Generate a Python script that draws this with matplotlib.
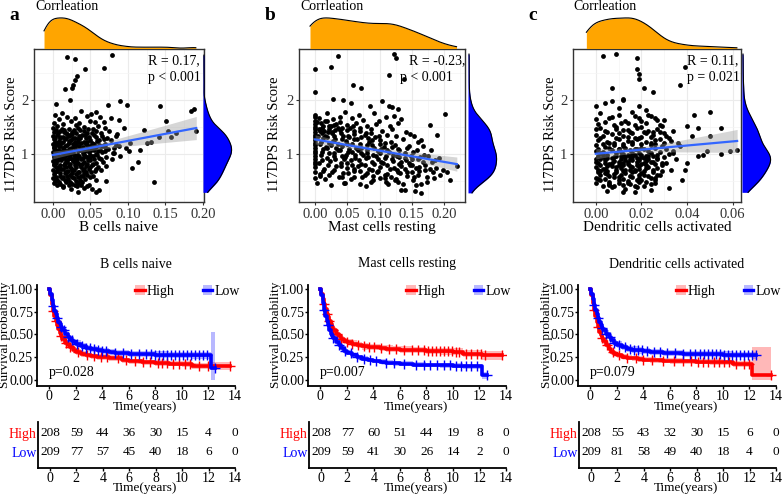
import numpy as np
import matplotlib
matplotlib.use('Agg')
import matplotlib.pyplot as plt
from matplotlib.patches import Patch
from matplotlib.lines import Line2D

plt.rcParams['font.family'] = ['Liberation Serif', 'DejaVu Serif']

# ---------------- data: scatter panels ----------------
a_pts = [
    (0.019, 2.80), (0.029, 2.75), (0.079, 2.83), (0.068, 2.60), (0.043, 2.57), (0.032, 2.44),
    (0.029, 2.37), (0.027, 2.28), (0.016, 2.21), (0.025, 2.23), (0.023, 2.00), (0.004, 1.92),
    (0.073, 1.91), (0.089, 1.99), (0.099, 1.91), (0.143, 1.88), (0.184, 1.80), (0.188, 1.83),
    (0.151, 1.61), (0.191, 1.43), (0.121, 1.45), (0.153, 1.42), (0.164, 1.39), (0.158, 1.31),
    (0.142, 1.31), (0.131, 1.23), (0.126, 1.20), (0.135, 0.48), (0.105, 0.74), (0.116, 1.08),
    (0.114, 0.85), (0.102, 1.05), (0.103, 1.20), (0.097, 1.11), (0.090, 0.96), (0.088, 1.14),
    (0.086, 1.37), (0.084, 1.33), (0.081, 1.11), (0.081, 1.01), (0.079, 0.91), (0.071, 0.77),
    (0.057, 0.29), (0.062, 0.34), (0.034, 0.29), (0.046, 0.40), (0.071, 0.50), (0.095, 1.48),
    (0.088, 1.63), (0.078, 1.66),
    (0.012, 1.76), (0.037, 1.79), (0.051, 1.74), (0.058, 1.77), (0.003, 1.72),
    (0.019, 1.69), (0.029, 1.66), (0.046, 1.70), (0.063, 1.68), (0.008, 1.64),
    (0.001, 1.58), (0.024, 1.61), (0.035, 1.57), (0.049, 1.62), (0.056, 1.59), (0.068, 1.60), (0.014, 1.55),
    (0.000, 1.49), (0.006, 1.52), (0.021, 1.47), (0.031, 1.53), (0.041, 1.50), (0.053, 1.46), (0.060, 1.51),
    (0.070, 1.48), (0.015, 1.45),
    (0.002, 1.41), (0.010, 1.43), (0.026, 1.40), (0.036, 1.44), (0.045, 1.39), (0.057, 1.42), (0.064, 1.38),
    (0.075, 1.43), (0.019, 1.37),
    (0.000, 1.33), (0.005, 1.36), (0.013, 1.31), (0.022, 1.34), (0.030, 1.30), (0.039, 1.35), (0.048, 1.32),
    (0.055, 1.36), (0.066, 1.33), (0.072, 1.29),
    (0.001, 1.27), (0.008, 1.24), (0.016, 1.28), (0.024, 1.25), (0.033, 1.27), (0.042, 1.23), (0.050, 1.26),
    (0.059, 1.24), (0.068, 1.27), (0.078, 1.25),
    (0.000, 1.19), (0.004, 1.16), (0.011, 1.20), (0.019, 1.17), (0.027, 1.19), (0.035, 1.15), (0.044, 1.18),
    (0.052, 1.21), (0.061, 1.17), (0.070, 1.19), (0.084, 1.16),
    (0.002, 1.11), (0.007, 1.08), (0.014, 1.12), (0.021, 1.09), (0.029, 1.11), (0.037, 1.07), (0.046, 1.10),
    (0.054, 1.12), (0.063, 1.08), (0.074, 1.10),
    (0.000, 1.03), (0.005, 1.00), (0.012, 1.04), (0.018, 1.01), (0.025, 1.03), (0.032, 0.99), (0.040, 1.02),
    (0.048, 1.04), (0.057, 1.00), (0.066, 1.03), (0.080, 1.01),
    (0.001, 0.95), (0.009, 0.92), (0.016, 0.96), (0.023, 0.93), (0.030, 0.95), (0.038, 0.91), (0.045, 0.94),
    (0.053, 0.96), (0.061, 0.92), (0.071, 0.95),
    (0.000, 0.87), (0.004, 0.84), (0.011, 0.88), (0.019, 0.85), (0.027, 0.87), (0.034, 0.83), (0.042, 0.86),
    (0.050, 0.88), (0.058, 0.84), (0.067, 0.86),
    (0.002, 0.79), (0.008, 0.76), (0.015, 0.80), (0.022, 0.77), (0.029, 0.79), (0.037, 0.75), (0.044, 0.78),
    (0.052, 0.80), (0.060, 0.76),
    (0.000, 0.71), (0.006, 0.68), (0.013, 0.72), (0.020, 0.69), (0.026, 0.71), (0.033, 0.67), (0.040, 0.70),
    (0.048, 0.72), (0.056, 0.68), (0.064, 0.71),
    (0.001, 0.63), (0.009, 0.60), (0.016, 0.64), (0.023, 0.61), (0.031, 0.63), (0.038, 0.59), (0.046, 0.62),
    (0.054, 0.60),
    (0.000, 0.55), (0.005, 0.52), (0.012, 0.56), (0.020, 0.53), (0.028, 0.55), (0.036, 0.51), (0.043, 0.54),
    (0.058, 0.52),
    (0.002, 0.47), (0.010, 0.44), (0.018, 0.48), (0.025, 0.45), (0.034, 0.47), (0.048, 0.43),
    (0.014, 0.39), (0.024, 0.36), (0.032, 0.40), (0.041, 0.37), (0.052, 0.35),
    (0.003, 1.22), (0.009, 1.14), (0.017, 1.06), (0.023, 0.98), (0.028, 1.15), (0.034, 1.22), (0.039, 1.09),
    (0.043, 0.97), (0.006, 0.90), (0.013, 0.97), (0.021, 1.21), (0.026, 1.37), (0.031, 0.88), (0.036, 1.30),
    (0.041, 1.43), (0.047, 1.15), (0.010, 1.30), (0.015, 1.40), (0.003, 1.05), (0.033, 1.05), (0.020, 0.90),
    (0.039, 0.82), (0.007, 0.73), (0.017, 0.66), (0.028, 0.70), (0.044, 0.66), (0.050, 0.98), (0.055, 1.08),
    (0.062, 1.25), (0.069, 1.13),
]
a_pts_core = [
    (0.004, 1.45), (0.012, 1.47), (0.028, 1.44), (0.033, 1.48), (0.047, 1.46),
    (0.007, 1.38), (0.017, 1.39), (0.023, 1.36), (0.031, 1.38), (0.043, 1.35), (0.052, 1.39),
    (0.003, 1.29), (0.009, 1.32), (0.018, 1.30), (0.027, 1.29), (0.035, 1.33), (0.044, 1.30), (0.058, 1.31),
    (0.006, 1.21), (0.013, 1.23), (0.021, 1.24), (0.029, 1.22), (0.038, 1.20), (0.046, 1.23), (0.055, 1.19),
    (0.002, 1.13), (0.008, 1.15), (0.016, 1.14), (0.024, 1.12), (0.031, 1.16), (0.040, 1.13), (0.049, 1.14),
    (0.058, 1.13), (0.066, 1.15),
    (0.003, 1.07), (0.010, 1.05), (0.015, 1.08), (0.022, 1.06), (0.027, 1.04), (0.035, 1.07), (0.043, 1.05),
    (0.051, 1.07), (0.060, 1.05), (0.069, 1.06),
    (0.002, 0.99), (0.008, 0.97), (0.014, 1.00), (0.020, 0.98), (0.028, 0.99), (0.035, 0.96), (0.042, 0.99),
    (0.050, 0.95), (0.059, 0.98),
    (0.003, 0.91), (0.007, 0.89), (0.013, 0.92), (0.018, 0.89), (0.025, 0.91), (0.032, 0.90), (0.040, 0.92),
    (0.047, 0.89), (0.055, 0.91), (0.064, 0.90),
    (0.002, 0.82), (0.009, 0.80), (0.016, 0.83), (0.023, 0.81), (0.030, 0.83), (0.036, 0.80), (0.046, 0.82),
    (0.054, 0.81),
    (0.004, 0.75), (0.011, 0.73), (0.017, 0.76), (0.024, 0.74), (0.031, 0.75), (0.041, 0.73), (0.049, 0.75),
    (0.057, 0.73),
    (0.003, 0.67), (0.010, 0.65), (0.018, 0.66), (0.026, 0.64), (0.035, 0.66), (0.042, 0.64), (0.051, 0.66),
    (0.004, 0.58), (0.013, 0.57), (0.019, 0.60), (0.026, 0.58), (0.034, 0.57), (0.040, 0.59), (0.050, 0.57),
    (0.003, 0.50), (0.008, 0.49), (0.016, 0.51), (0.023, 0.49), (0.031, 0.50), (0.039, 0.49),
    (0.006, 0.42), (0.014, 0.41), (0.021, 0.43), (0.029, 0.42), (0.037, 0.43),
]

b_pts = [
    (0.000, 2.58), (0.000, 2.15), (0.024, 2.61), (0.035, 2.81), (0.059, 2.28), (0.071, 2.23),
    (0.123, 2.85), (0.125, 2.77), (0.114, 2.46), (0.138, 2.39), (0.028, 2.01), (0.044, 2.00),
    (0.104, 1.99), (0.056, 1.94), (0.085, 1.88), (0.115, 1.89), (0.119, 1.87), (0.128, 1.83),
    (0.202, 1.74), (0.178, 1.53), (0.190, 1.36), (0.220, 0.77), (0.198, 0.70), (0.210, 0.51),
    (0.185, 0.56), (0.165, 0.44), (0.155, 0.31), (0.165, 0.28), (0.140, 0.33), (0.134, 0.34),
    (0.079, 0.40), (0.045, 0.47), (0.170, 0.80), (0.176, 0.96), (0.180, 1.08), (0.158, 1.08),
    (0.165, 1.26), (0.153, 1.33), (0.145, 1.14), (0.150, 0.90),
    (0.000, 1.73), (0.018, 1.76), (0.047, 1.78), (0.068, 1.72), (0.092, 1.75), (0.122, 1.71), (0.006, 1.66),
    (0.000, 1.62), (0.028, 1.65), (0.039, 1.60), (0.057, 1.67), (0.075, 1.63), (0.099, 1.61), (0.110, 1.68),
    (0.134, 1.64),
    (0.000, 1.55), (0.012, 1.52), (0.033, 1.56), (0.049, 1.53), (0.063, 1.57), (0.081, 1.51), (0.095, 1.55),
    (0.116, 1.52), (0.128, 1.57),
    (0.000, 1.46), (0.007, 1.43), (0.021, 1.47), (0.038, 1.44), (0.054, 1.48), (0.070, 1.42), (0.086, 1.46),
    (0.104, 1.43), (0.120, 1.47), (0.141, 1.41),
    (0.000, 1.36), (0.015, 1.34), (0.026, 1.38), (0.044, 1.33), (0.060, 1.37), (0.077, 1.35), (0.093, 1.32),
    (0.111, 1.36), (0.126, 1.33), (0.148, 1.37),
    (0.000, 1.26), (0.009, 1.23), (0.031, 1.27), (0.048, 1.24), (0.065, 1.28), (0.083, 1.22), (0.101, 1.26),
    (0.118, 1.23), (0.136, 1.27), (0.160, 1.22),
    (0.000, 1.16), (0.017, 1.13), (0.024, 1.17), (0.041, 1.14), (0.058, 1.18), (0.072, 1.12), (0.089, 1.16),
    (0.107, 1.13), (0.124, 1.17), (0.143, 1.12), (0.168, 1.15),
    (0.000, 1.06), (0.011, 1.03), (0.035, 1.07), (0.051, 1.04), (0.067, 1.08), (0.080, 1.02), (0.097, 1.06),
    (0.114, 1.03), (0.131, 1.07), (0.152, 1.04),
    (0.000, 0.96), (0.019, 0.93), (0.029, 0.97), (0.046, 0.94), (0.062, 0.98), (0.079, 0.92), (0.094, 0.96),
    (0.109, 0.93), (0.127, 0.97), (0.139, 0.92), (0.163, 0.95),
    (0.000, 0.86), (0.006, 0.83), (0.023, 0.87), (0.040, 0.84), (0.056, 0.88), (0.071, 0.82), (0.088, 0.86),
    (0.105, 0.83), (0.121, 0.87), (0.145, 0.84),
    (0.000, 0.76), (0.014, 0.73), (0.032, 0.77), (0.050, 0.74), (0.066, 0.78), (0.084, 0.72), (0.100, 0.76),
    (0.117, 0.73), (0.133, 0.77), (0.156, 0.74),
    (0.000, 0.66), (0.008, 0.63), (0.027, 0.67), (0.043, 0.64), (0.061, 0.68), (0.078, 0.62), (0.096, 0.66),
    (0.112, 0.63), (0.129, 0.67),
    (0.000, 0.56), (0.016, 0.53), (0.037, 0.57), (0.055, 0.54), (0.073, 0.58), (0.090, 0.52), (0.108, 0.56),
    (0.125, 0.53),
    (0.003, 0.46), (0.025, 0.43), (0.047, 0.47), (0.069, 0.44), (0.087, 0.48), (0.113, 0.45),
    (0.052, 1.31), (0.064, 1.12), (0.074, 0.99), (0.035, 1.19), (0.086, 1.39), (0.045, 0.90), (0.057, 0.79),
    (0.103, 1.10), (0.021, 1.02), (0.013, 1.29), (0.098, 0.90), (0.082, 1.29),
]
b_pts_core = [
    (0.000, 1.40), (0.000, 1.31), (0.000, 1.21), (0.000, 1.11), (0.000, 1.01), (0.000, 0.91), (0.000, 1.50),
    (0.000, 0.81), (0.000, 1.68),
    (0.009, 1.58), (0.010, 1.48), (0.011, 1.39), (0.008, 1.19), (0.012, 1.09), (0.009, 0.98), (0.010, 0.89),
    (0.012, 0.69), (0.008, 0.59),
    (0.019, 1.62), (0.021, 1.52), (0.020, 1.41), (0.018, 1.31), (0.022, 1.21), (0.019, 1.11), (0.020, 0.79),
    (0.021, 0.61),
    (0.029, 1.54), (0.031, 1.44), (0.030, 1.34), (0.028, 1.24), (0.032, 1.12), (0.029, 1.01), (0.031, 0.91),
    (0.030, 0.71),
    (0.039, 1.68), (0.041, 1.49), (0.040, 1.39), (0.042, 1.27), (0.038, 1.07), (0.041, 0.97), (0.040, 0.78),
    (0.042, 0.57),
    (0.049, 1.44), (0.051, 1.34), (0.050, 1.19), (0.052, 1.09), (0.048, 0.99), (0.050, 0.84), (0.051, 0.64),
    (0.059, 1.52), (0.061, 1.42), (0.060, 1.27), (0.058, 1.04), (0.062, 0.93), (0.060, 0.73), (0.061, 0.58),
    (0.069, 1.49), (0.071, 1.31), (0.070, 1.19), (0.072, 1.02), (0.068, 0.89), (0.070, 0.69),
    (0.079, 1.39), (0.081, 1.16), (0.080, 1.07), (0.082, 0.94), (0.078, 0.79), (0.080, 0.64),
    (0.089, 1.25), (0.091, 1.11), (0.090, 0.99), (0.092, 0.81), (0.088, 0.71), (0.090, 0.59),
    (0.099, 1.33), (0.101, 1.19), (0.100, 1.02), (0.102, 0.86), (0.098, 0.69), (0.100, 0.55),
    (0.109, 1.21), (0.111, 1.07), (0.110, 0.97), (0.112, 0.79), (0.108, 0.61), (0.110, 0.48),
    (0.119, 1.13), (0.121, 0.99), (0.120, 0.90), (0.122, 0.74), (0.118, 0.58),
    (0.129, 1.10), (0.131, 0.94), (0.130, 0.82), (0.132, 0.64), (0.128, 0.49),
    (0.139, 1.01), (0.141, 0.88), (0.140, 0.72), (0.142, 0.59),
    (0.149, 0.97), (0.151, 0.79), (0.150, 0.66), (0.152, 0.52),
    (0.159, 0.91), (0.161, 0.75), (0.160, 0.62),
    (0.169, 0.99), (0.171, 0.70), (0.173, 0.58),
    (0.181, 0.86), (0.183, 0.66), (0.192, 0.92), (0.188, 0.74),
    (0.124, 0.52), (0.127, 0.71), (0.133, 0.86), (0.137, 0.45), (0.143, 0.66), (0.147, 0.80), (0.154, 0.58),
    (0.157, 0.42), (0.162, 0.68), (0.167, 0.85), (0.174, 0.49), (0.178, 0.73), (0.186, 0.88), (0.194, 0.61),
    (0.205, 0.66),
    (0.003, 1.59), (0.006, 1.47), (0.014, 1.43), (0.016, 1.62), (0.024, 1.51), (0.027, 1.41), (0.035, 1.49),
    (0.004, 1.33),
]

c_pts = [
    (0.003, 2.81), (0.009, 2.85), (0.018, 2.77), (0.018, 2.58), (0.019, 2.48), (0.019, 2.39),
    (0.007, 2.23), (0.021, 2.23), (0.025, 2.14), (0.039, 2.61), (0.037, 2.28), (0.000, 1.89),
    (0.004, 1.94), (0.007, 1.99), (0.012, 2.02), (0.012, 2.00), (0.019, 1.88), (0.010, 1.85),
    (0.043, 1.72), (0.050, 1.77), (0.055, 1.48), (0.045, 1.48), (0.040, 1.51), (0.050, 1.33),
    (0.042, 1.33), (0.055, 1.00), (0.059, 1.05), (0.062, 1.07), (0.047, 0.99), (0.049, 1.05),
    (0.045, 0.96), (0.040, 0.83), (0.039, 0.71), (0.038, 0.51), (0.033, 0.71), (0.032, 0.37),
    (0.026, 0.47), (0.026, 0.56), (0.029, 0.83), (0.024, 0.34), (0.017, 0.29), (0.012, 0.29),
    (0.005, 0.31), (0.034, 1.05), (0.036, 1.20), (0.032, 1.29), (0.030, 1.39), (0.034, 1.42),
    (0.028, 1.54), (0.030, 1.63), (0.026, 1.66), (0.022, 1.82), (0.023, 1.72),
    (0.002, 1.76), (0.010, 1.73), (0.016, 1.78), (0.024, 1.71),
    (0.000, 1.64), (0.006, 1.67), (0.013, 1.62), (0.019, 1.66), (0.027, 1.63),
    (0.001, 1.56), (0.008, 1.53), (0.011, 1.58), (0.017, 1.54), (0.022, 1.57), (0.029, 1.52),
    (0.000, 1.46), (0.004, 1.43), (0.009, 1.47), (0.014, 1.44), (0.018, 1.48), (0.023, 1.42), (0.027, 1.46),
    (0.000, 1.36), (0.003, 1.33), (0.007, 1.37), (0.012, 1.34), (0.016, 1.38), (0.020, 1.32), (0.025, 1.36),
    (0.031, 1.34),
    (0.001, 1.26), (0.005, 1.23), (0.010, 1.27), (0.014, 1.24), (0.018, 1.28), (0.022, 1.22), (0.026, 1.26),
    (0.033, 1.24),
    (0.000, 1.16), (0.004, 1.13), (0.008, 1.17), (0.012, 1.14), (0.016, 1.18), (0.020, 1.12), (0.024, 1.16),
    (0.029, 1.14), (0.037, 1.15),
    (0.000, 1.06), (0.003, 1.03), (0.007, 1.07), (0.011, 1.04), (0.015, 1.08), (0.019, 1.02), (0.023, 1.06),
    (0.028, 1.04), (0.034, 1.02),
    (0.001, 0.96), (0.005, 0.93), (0.009, 0.97), (0.013, 0.94), (0.017, 0.98), (0.021, 0.92), (0.025, 0.96),
    (0.030, 0.94),
    (0.000, 0.86), (0.004, 0.83), (0.008, 0.87), (0.012, 0.84), (0.016, 0.88), (0.020, 0.82), (0.024, 0.86),
    (0.031, 0.84),
    (0.000, 0.76), (0.003, 0.73), (0.007, 0.77), (0.011, 0.74), (0.015, 0.78), (0.019, 0.72), (0.023, 0.76),
    (0.027, 0.74),
    (0.001, 0.66), (0.005, 0.63), (0.009, 0.67), (0.013, 0.64), (0.017, 0.68), (0.021, 0.62), (0.025, 0.66),
    (0.000, 0.56), (0.004, 0.53), (0.008, 0.57), (0.012, 0.54), (0.016, 0.58), (0.020, 0.52), (0.024, 0.56),
    (0.000, 0.46), (0.006, 0.43), (0.010, 0.47), (0.015, 0.44), (0.019, 0.48),
    (0.007, 0.38), (0.013, 0.36), (0.018, 0.39),
    (0.006, 1.21), (0.010, 1.10), (0.014, 0.99), (0.018, 1.09), (0.002, 0.91), (0.012, 0.80), (0.017, 1.30),
    (0.021, 1.40), (0.009, 1.50), (0.015, 0.70), (0.022, 0.97), (0.026, 1.18),
]
c_pts_core = [
    (0.002, 1.49), (0.012, 1.45), (0.020, 1.50), (0.025, 1.41),
    (0.005, 1.40), (0.010, 1.38), (0.015, 1.41), (0.022, 1.39), (0.028, 1.40),
    (0.002, 1.30), (0.009, 1.29), (0.014, 1.31), (0.019, 1.29), (0.024, 1.31), (0.028, 1.28),
    (0.003, 1.19), (0.008, 1.21), (0.012, 1.19), (0.016, 1.22), (0.020, 1.19), (0.024, 1.21), (0.030, 1.20),
    (0.001, 1.10), (0.006, 1.11), (0.010, 1.09), (0.013, 1.12), (0.017, 1.10), (0.021, 1.09), (0.026, 1.11),
    (0.031, 1.09),
    (0.002, 1.01), (0.005, 0.99), (0.009, 1.02), (0.012, 1.00), (0.016, 1.01), (0.020, 0.99), (0.024, 1.01),
    (0.027, 0.99), (0.032, 1.00),
    (0.000, 0.91), (0.004, 0.89), (0.007, 0.92), (0.011, 0.90), (0.015, 0.91), (0.019, 0.89), (0.023, 0.91),
    (0.027, 0.90), (0.035, 0.90),
    (0.002, 0.80), (0.006, 0.81), (0.010, 0.79), (0.014, 0.81), (0.018, 0.80), (0.022, 0.79), (0.026, 0.81),
    (0.029, 0.79),
    (0.001, 0.71), (0.005, 0.69), (0.009, 0.71), (0.013, 0.70), (0.017, 0.71), (0.021, 0.69), (0.025, 0.71),
    (0.029, 0.69),
    (0.002, 0.61), (0.006, 0.59), (0.011, 0.61), (0.015, 0.60), (0.019, 0.61), (0.023, 0.59), (0.027, 0.61),
    (0.002, 0.51), (0.006, 0.49), (0.010, 0.52), (0.014, 0.50), (0.018, 0.51), (0.022, 0.49), (0.026, 0.51),
    (0.003, 0.41), (0.008, 0.40), (0.012, 0.42), (0.017, 0.41), (0.021, 0.40),
    (0.004, 1.60), (0.014, 1.58), (0.020, 1.61), (0.007, 1.69), (0.017, 1.70),
    (0.001, 0.53), (0.004, 0.64), (0.007, 0.84), (0.010, 0.58), (0.013, 0.88), (0.016, 0.66), (0.019, 0.55),
    (0.022, 0.74), (0.025, 0.85), (0.028, 0.62), (0.003, 0.95), (0.009, 0.76), (0.014, 0.47), (0.018, 0.93),
    (0.021, 0.83), (0.024, 0.45), (0.027, 0.93), (0.006, 0.45), (0.011, 0.96), (0.016, 0.75), (0.002, 0.69),
    (0.008, 0.63), (0.020, 0.65), (0.023, 0.97), (0.012, 0.68),
    (0.001, 0.84), (0.003, 0.99), (0.005, 0.77), (0.008, 0.94), (0.010, 0.85), (0.012, 0.96), (0.014, 0.86),
    (0.016, 0.94), (0.018, 0.86), (0.020, 0.95), (0.022, 0.87), (0.004, 0.72), (0.011, 0.82), (0.015, 0.97),
    (0.019, 0.78),
]

scatter_xlabels = ['B cells naive', 'Mast cells resting', 'Dendritic cells activated']
scatter_R = ['R = 0.17,', 'R = -0.23,', 'R = 0.11,']
scatter_p = ['p < 0.001', 'p < 0.001', 'p = 0.021']
a_xticks = [0.00, 0.05, 0.10, 0.15, 0.20]
b_xticks = [0.00, 0.05, 0.10, 0.15, 0.20]
c_xticks = [0.00, 0.02, 0.04, 0.06]
scatter_yticks = [1, 2]

# ---------------- data: survival panels ----------------
km_times = [0, 0.1, 0.2, 0.3, 0.4, 0.5, 0.6, 0.7, 0.8, 0.9, 1.0, 1.2, 1.4, 1.6, 1.8, 2.0,
            2.4, 2.8, 3.2, 3.6, 4.0, 4.5, 5.0, 5.5, 6.0, 7.0, 8.0, 9.0, 10.0, 10.8, 12.2]

a_high_surv = [1.0, 0.93, 0.84, 0.76, 0.70, 0.65, 0.60, 0.56, 0.52, 0.48, 0.45, 0.41, 0.38, 0.36, 0.33, 0.31,
               0.29, 0.27, 0.26, 0.255, 0.25, 0.245, 0.24, 0.215, 0.205, 0.195, 0.185, 0.18, 0.176, 0.155, 0.155]
a_low_surv = [1.0, 0.95, 0.88, 0.81, 0.76, 0.72, 0.68, 0.64, 0.61, 0.58, 0.55, 0.51, 0.47, 0.44, 0.42, 0.40,
              0.37, 0.35, 0.34, 0.33, 0.32, 0.31, 0.30, 0.295, 0.29, 0.285, 0.28, 0.278, 0.275, 0.27, 0.13]
b_high_surv = [1.0, 0.95, 0.89, 0.83, 0.78, 0.73, 0.69, 0.65, 0.62, 0.58, 0.55, 0.51, 0.48, 0.45, 0.43, 0.42,
               0.40, 0.385, 0.37, 0.365, 0.36, 0.35, 0.345, 0.34, 0.335, 0.33, 0.32, 0.315, 0.31, 0.29, 0.27]
b_low_surv = [1.0, 0.93, 0.85, 0.77, 0.70, 0.65, 0.60, 0.55, 0.51, 0.48, 0.46, 0.42, 0.38, 0.35, 0.32, 0.30,
              0.27, 0.25, 0.235, 0.22, 0.21, 0.20, 0.19, 0.185, 0.18, 0.17, 0.165, 0.16, 0.155, 0.15, 0.05]
c_high_surv = [1.0, 0.93, 0.85, 0.77, 0.70, 0.64, 0.58, 0.53, 0.49, 0.46, 0.43, 0.38, 0.34, 0.31, 0.29, 0.27,
               0.255, 0.245, 0.24, 0.23, 0.225, 0.22, 0.215, 0.212, 0.21, 0.205, 0.20, 0.198, 0.195, 0.175, 0.06]
c_low_surv = [1.0, 0.95, 0.89, 0.82, 0.77, 0.72, 0.68, 0.64, 0.60, 0.57, 0.55, 0.51, 0.47, 0.44, 0.41, 0.39,
              0.36, 0.345, 0.335, 0.325, 0.32, 0.31, 0.305, 0.30, 0.30, 0.29, 0.285, 0.283, 0.28, 0.275, 0.27]

# CI half widths
a_high_ci = [0.0, 0.02, 0.025, 0.03, 0.03, 0.033, 0.034, 0.035, 0.035, 0.035, 0.035, 0.034, 0.034, 0.033, 0.033, 0.032,
             0.032, 0.031, 0.031, 0.031, 0.031, 0.031, 0.031, 0.03, 0.03, 0.03, 0.03, 0.03, 0.03, 0.035, 0.04]
a_low_ci = [0.0, 0.02, 0.025, 0.03, 0.03, 0.033, 0.034, 0.035, 0.035, 0.035, 0.035, 0.035, 0.035, 0.035, 0.035, 0.035,
            0.034, 0.034, 0.034, 0.034, 0.034, 0.034, 0.034, 0.034, 0.034, 0.034, 0.034, 0.035, 0.035, 0.04, 0.40]
b_high_ci = [0.0, 0.02, 0.025, 0.03, 0.03, 0.033, 0.034, 0.035, 0.035, 0.035, 0.035, 0.035, 0.035, 0.035, 0.035, 0.035,
             0.035, 0.035, 0.035, 0.035, 0.035, 0.035, 0.035, 0.035, 0.035, 0.035, 0.035, 0.036, 0.037, 0.04, 0.045]
b_low_ci = [0.0, 0.02, 0.025, 0.03, 0.03, 0.033, 0.034, 0.035, 0.035, 0.034, 0.034, 0.033, 0.032, 0.031, 0.03, 0.029,
            0.028, 0.027, 0.027, 0.026, 0.026, 0.026, 0.026, 0.026, 0.026, 0.026, 0.026, 0.026, 0.027, 0.03, 0.04]
c_high_ci = [0.0, 0.02, 0.025, 0.03, 0.03, 0.033, 0.034, 0.035, 0.035, 0.034, 0.034, 0.033, 0.032, 0.031, 0.03, 0.03,
             0.029, 0.029, 0.029, 0.029, 0.029, 0.029, 0.029, 0.029, 0.029, 0.029, 0.029, 0.029, 0.03, 0.035, 0.30]
c_low_ci = [0.0, 0.02, 0.025, 0.03, 0.03, 0.033, 0.034, 0.035, 0.035, 0.035, 0.035, 0.035, 0.035, 0.035, 0.035, 0.035,
            0.034, 0.034, 0.034, 0.034, 0.034, 0.034, 0.034, 0.034, 0.034, 0.034, 0.034, 0.035, 0.035, 0.038, 0.04]

a_high_end, a_low_end = 13.6, 12.5
b_high_end, b_low_end = 13.7, 12.6
c_high_end, c_low_end = 13.6, 12.5

a_high_cens = [0.3, 0.5, 0.9, 1.3, 1.6, 2.2, 2.9, 3.4, 3.9, 4.4, 5.2, 5.8, 6.5, 7.1, 7.6, 8.2, 8.5, 8.9,
               9.3, 9.8, 10.2, 10.6, 11.3, 12.0, 13.6]
a_low_cens = [0.3, 0.6, 0.9, 1.1, 1.4, 1.7, 2.1, 2.5, 2.8, 3.1, 3.4, 3.7, 4.0, 4.3, 5.0, 5.6, 6.2, 6.8,
              7.3, 7.7, 8.0, 8.3, 8.6, 8.9, 9.2, 9.5, 9.8, 10.1, 10.4, 10.7, 11.0, 11.3, 11.6, 11.9, 12.5]
b_high_cens = [0.3, 0.5, 0.7, 1.0, 1.3, 1.6, 2.0, 2.4, 2.9, 3.3, 3.7, 4.1, 4.6, 5.2, 5.7, 6.3, 6.9, 7.4,
               7.8, 8.1, 8.4, 8.7, 9.0, 9.3, 9.6, 9.9, 10.2, 10.5, 11.0, 11.4, 11.8, 12.1, 12.4, 13.7]
b_low_cens = [0.3, 0.6, 1.0, 1.4, 1.9, 2.3, 2.8, 3.3, 3.8, 4.2, 5.0, 5.6, 6.3, 7.2, 7.8, 8.3, 8.8, 9.3,
              9.8, 10.2, 10.6, 11.0, 11.4, 11.8, 12.6]
c_high_cens = [0.3, 0.6, 0.9, 1.3, 1.7, 2.2, 2.8, 3.5, 4.0, 4.7, 5.5, 6.3, 7.0, 7.6, 8.1, 8.5, 8.9, 9.3,
               9.7, 10.1, 10.5, 11.0, 11.6, 12.0, 13.6]
c_low_cens = [0.3, 0.6, 0.9, 1.2, 1.5, 1.8, 2.2, 2.6, 3.0, 3.3, 3.6, 3.9, 4.3, 4.8, 5.3, 5.8, 6.4, 7.0,
              7.5, 7.9, 8.3, 8.6, 8.9, 9.2, 9.5, 9.8, 10.1, 10.4, 10.7, 11.0, 11.3, 11.6, 11.9, 12.2, 12.5]

km_titles = ['B cells naive', 'Mast cells resting', 'Dendritic cells activated']
km_pvals = ['p=0.028', 'p=0.007', 'p=0.079']
risk_times = [0, 2, 4, 6, 8, 10, 12, 14]
a_risk_high = [208, 59, 44, 36, 30, 15, 4, 0]
a_risk_low = [209, 77, 57, 45, 40, 18, 6, 0]
b_risk_high = [208, 77, 60, 51, 44, 19, 8, 0]
b_risk_low = [209, 59, 41, 30, 26, 14, 2, 0]
c_risk_high = [208, 55, 43, 32, 30, 15, 6, 0]
c_risk_low = [209, 81, 58, 49, 40, 18, 4, 0]
y_ticks_km = [0.0, 0.25, 0.5, 0.75, 1.0]

RED, BLUE = '#FF0000', '#0000FF'
W, H = 784, 495
fig = plt.figure(figsize=(W / 100, H / 100), dpi=100)


def ax_px(x0, y0, x1, y1):
    return fig.add_axes([x0 / W, 1 - y1 / H, (x1 - x0) / W, (y1 - y0) / H])


def txt(x, y, s, **kw):
    fig.text(x / W, 1 - y / H, s, **kw)


def kde(v, grid):
    v = np.asarray(v, float)
    n = len(v)
    sd = v.std(ddof=1)
    iqr = np.subtract(*np.percentile(v, [75, 25]))
    bw = 0.9 * min(sd, iqr / 1.34) * n ** -0.2
    return np.exp(-0.5 * ((grid[:, None] - v[None, :]) / bw) ** 2).sum(1) / (n * bw * np.sqrt(2 * np.pi))


def scatter_panel(pts, x0, x1, xlim, xticks, xlabel, letter, rtxt, ptxt, rx, px_, ylab_x, dens_x0,
                  letter_x, corr_x):
    x = np.array([p[0] for p in pts])
    y = np.array([p[1] for p in pts])
    ylim = (0.111, 2.944)
    ax = ax_px(x0, 49, x1, 202)
    ax.set_xlim(*xlim)
    ax.set_ylim(*ylim)
    ax.set_xticks(xticks)
    ax.set_xticklabels(['%.2f' % t for t in xticks], fontsize=10.5)
    ax.set_yticks(scatter_yticks)
    ax.set_yticklabels([str(t) for t in scatter_yticks], fontsize=10.5)
    step = xticks[1] - xticks[0]
    ax.set_xticks(np.arange(xticks[0] - step / 2, xlim[1], step), minor=True)
    ax.set_yticks([0.5, 1.5, 2.5], minor=True)
    ax.tick_params(which='minor', length=0)
    ax.tick_params(which='major', length=2.5, width=0.8, pad=1.5, colors='#333333', labelcolor='#333333')
    ax.grid(True, which='major', color='#ebebeb', lw=0.8)
    ax.grid(True, which='minor', color='#f4f4f4', lw=0.5)
    ax.set_axisbelow(True)
    for s in ax.spines.values():
        s.set_color('#333333')
        s.set_linewidth(1.0)
    # regression with 95% CI
    n = len(x)
    b1, b0 = np.polyfit(x, y, 1)
    xs = np.linspace(x.min(), x.max(), 100)
    yh = b0 + b1 * xs
    res = y - (b0 + b1 * x)
    s_ = np.sqrt(res @ res / (n - 2))
    sxx = ((x - x.mean()) ** 2).sum()
    se = s_ * np.sqrt(1 / n + (xs - x.mean()) ** 2 / sxx)
    ax.scatter(x, y, s=12, color='black', lw=0, zorder=3)
    ax.fill_between(xs, yh - 1.966 * se, yh + 1.966 * se, color='#999999', alpha=0.4, lw=0, zorder=4)
    ax.plot(xs, yh, color='#3366FF', lw=1.6, zorder=5)
    txt((x0 + x1) / 2, 227, xlabel, ha='center', va='center', fontsize=11)
    txt(ylab_x, 134, '117DPS Risk Score', ha='center', va='center', rotation=90, fontsize=10.5)
    txt(rx, 61, rtxt, ha='left', va='center', fontsize=10)
    txt(px_, 77, ptxt, ha='left', va='center', fontsize=10)
    # top marginal density
    axt = ax_px(x0, 17, x1, 48.5)
    gx = np.linspace(x.min(), x.max(), 300)
    dx = kde(x, gx)
    axt.fill_between(gx, 0, dx, color='#FFA500', lw=0)
    axt.plot(gx, dx, color='black', lw=0.8)
    axt.set_xlim(*xlim)
    axt.set_ylim(0, dx.max() * 1.03)
    axt.axis('off')
    # right marginal density
    axr = ax_px(dens_x0, 49, dens_x0 + 30, 202)
    gy = np.linspace(y.min(), y.max(), 300)
    dy = kde(y, gy)
    axr.fill_betweenx(gy, 0, dy, color='#0000FF', lw=0)
    axr.plot(dy, gy, color='black', lw=0.8)
    axr.set_ylim(*ylim)
    axr.set_xlim(0, dy.max() * 1.05)
    axr.axis('off')
    txt(corr_x, 6, 'Corrleation', ha='left', va='center', fontsize=10)
    txt(letter_x, 16, letter, ha='center', va='center', fontsize=14, fontweight='bold')


scatter_panel(a_pts + a_pts_core, 34, 204, (-0.0126, 0.2013), a_xticks, scatter_xlabels[0], 'a',
              scatter_R[0], scatter_p[0], 148, 148, 12, 203, 14, 35)
scatter_panel(b_pts + b_pts_core, 299, 465, (-0.0165, 0.2327), b_xticks, scatter_xlabels[1], 'b',
              scatter_R[1], scatter_p[1], 409, 400, 275, 468, 270, 300)
scatter_panel(c_pts + c_pts_core, 573, 741, (-0.0055, 0.0637), c_xticks, scatter_xlabels[2], 'c',
              scatter_R[2], scatter_p[2], 687, 687, 550, 742, 533, 573)


def km_group(ax, surv, ci, end, cens, color):
    t = np.array(km_times + [end])
    s = np.array(surv + [surv[-1]])
    c = np.array(ci + [ci[-1]])
    lo = np.clip(s - c, 0, 1)
    hi = np.clip(s + c, 0, 1)
    ax.fill_between(t, lo, hi, step='post', color=color, alpha=0.28, lw=0)
    ax.step(t, s, where='post', color=color, lw=2.6)
    ct = np.array(cens)
    cy = s[np.searchsorted(t, ct, side='right') - 1]
    ax.plot(ct, cy, '+', color=color, ms=6.5, mew=1.0, ls='none')


def km_panel(x0, title, pval, hi_s, hi_ci, hi_end, hi_c, lo_s, lo_ci, lo_end, lo_c, r_hi, r_lo, ylab_x):
    xl = (-0.9, 14.0)
    x1 = x0 + 198
    ax = ax_px(x0, 285, x1, 386)
    km_group(ax, hi_s, hi_ci, hi_end, hi_c, RED)
    km_group(ax, lo_s, lo_ci, lo_end, lo_c, BLUE)
    ax.set_xlim(*xl)
    ax.set_ylim(-0.066, 1.044)
    ax.set_xticks(risk_times)
    ax.set_xticklabels([str(t) for t in risk_times], fontsize=10)
    ax.set_yticks(y_ticks_km)
    ax.set_yticklabels(['%.2f' % v for v in y_ticks_km], fontsize=10)
    ax.tick_params(length=2.5, width=1, pad=0.3)
    for k in ['top', 'right']:
        ax.spines[k].set_visible(False)
    for k in ['left', 'bottom']:
        ax.spines[k].set_linewidth(1.3)
    h = [(Patch(facecolor=RED, alpha=0.28, lw=0), Line2D([], [], color=RED, lw=2.4)),
         (Patch(facecolor=BLUE, alpha=0.28, lw=0), Line2D([], [], color=BLUE, lw=2.4))]
    ax.legend(h, ['High', 'Low'], ncol=2, frameon=False, fontsize=10, handlelength=0.7,
              handleheight=0.7, handletextpad=0.15, columnspacing=2.0, loc='center',
              bbox_to_anchor=(0.76, 0.94), borderpad=0)
    ax.text(0.0, 0.08, pval, fontsize=10, ha='left', va='center', transform=ax.transData)
    txt(x0 + 99, 264, title, ha='center', va='center', fontsize=10)
    txt(x0 + 108, 407, 'Time(years)', ha='center', va='center', fontsize=9.5)
    txt(ylab_x, 335, 'Survival probability', ha='center', va='center', rotation=90, fontsize=9.5)
    # risk table
    rt = ax_px(x0 + 1, 422, x1, 468)
    rt.set_xlim(*xl)
    rt.set_ylim(0, 1)
    for t, nh, nl in zip(risk_times, r_hi, r_lo):
        rt.text(t, 0.76, str(nh), ha='center', va='center', fontsize=9.5)
        rt.text(t, 0.35, str(nl), ha='center', va='center', fontsize=9.5)
    rt.set_yticks([0.76, 0.35])
    rt.set_yticklabels(['High', 'Low'], fontsize=10)
    for lab, col in zip(rt.get_yticklabels(), [RED, BLUE]):
        lab.set_color(col)
    rt.tick_params(axis='y', length=0, pad=1)
    rt.set_xticks(risk_times)
    rt.set_xticklabels([str(t) for t in risk_times], fontsize=10)
    rt.tick_params(axis='x', length=2.5, width=1, pad=0.3)
    for k in ['top', 'right']:
        rt.spines[k].set_visible(False)
    for k in ['left', 'bottom']:
        rt.spines[k].set_linewidth(1.3)
    txt(x0 + 108, 488.5, 'Time(years)', ha='center', va='center', fontsize=9.5)


km_panel(37, km_titles[0], km_pvals[0], a_high_surv, a_high_ci, a_high_end, a_high_cens,
         a_low_surv, a_low_ci, a_low_end, a_low_cens, a_risk_high, a_risk_low, 5)
km_panel(308, km_titles[1], km_pvals[1], b_high_surv, b_high_ci, b_high_end, b_high_cens,
         b_low_surv, b_low_ci, b_low_end, b_low_cens, b_risk_high, b_risk_low, 276)
km_panel(578, km_titles[2], km_pvals[2], c_high_surv, c_high_ci, c_high_end, c_high_cens,
         c_low_surv, c_low_ci, c_low_end, c_low_cens, c_risk_high, c_risk_low, 547)

fig.savefig('out.png', dpi=100)
